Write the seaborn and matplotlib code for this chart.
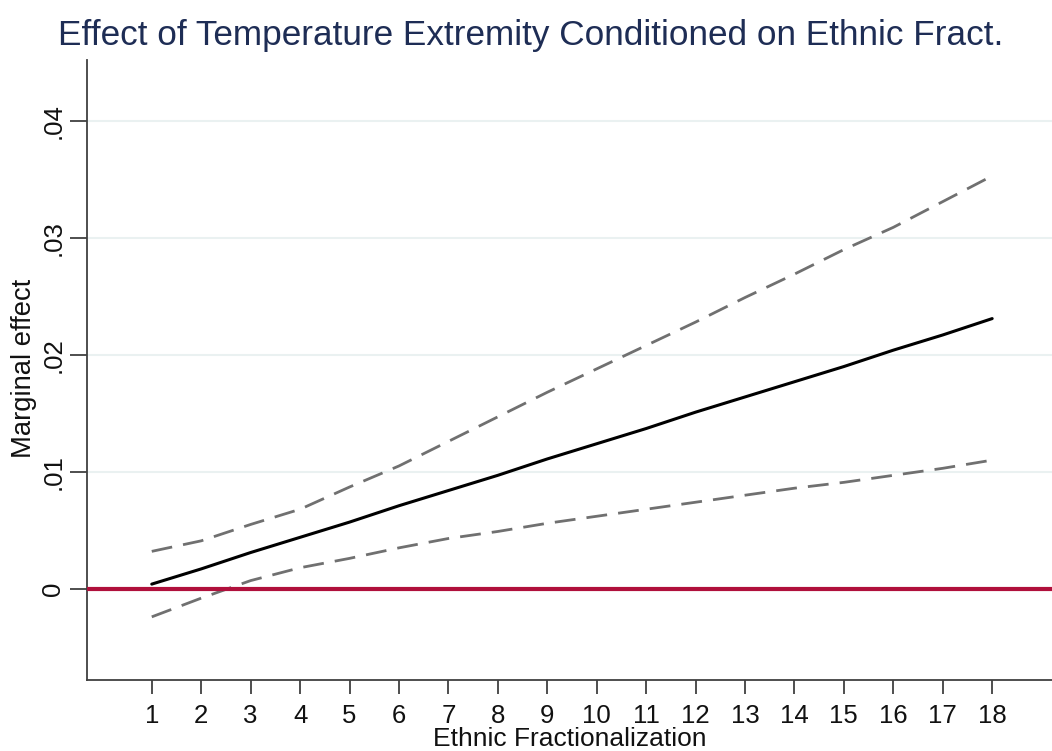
import matplotlib
matplotlib.use("Agg")
import matplotlib.pyplot as plt
import seaborn as sns
import pandas as pd

# Marginal effect of temperature extremity across ethnic fractionalization levels
ethnic_frac = list(range(1, 19))
marginal_effect = [0.0004, 0.0017, 0.0031, 0.0044, 0.0057, 0.0071, 0.0084, 0.0097, 0.0111,
                   0.0124, 0.0137, 0.0151, 0.0164, 0.0177, 0.0190, 0.0204, 0.0217, 0.0231]
upper_ci = [0.0032, 0.0041, 0.0055, 0.0068, 0.0087, 0.0105, 0.0126, 0.0147, 0.0168,
            0.0188, 0.0208, 0.0228, 0.0249, 0.0269, 0.0290, 0.0309, 0.0331, 0.0353]
lower_ci = [-0.0024, -0.0008, 0.0007, 0.0018, 0.0026, 0.0035, 0.0043, 0.0049, 0.0056,
            0.0062, 0.0068, 0.0074, 0.0080, 0.0086, 0.0091, 0.0097, 0.0103, 0.0110]
y_ticks = [0.0, 0.01, 0.02, 0.03, 0.04]
y_tick_labels = ["0", ".01", ".02", ".03", ".04"]

df = pd.DataFrame({"frac": ethnic_frac, "effect": marginal_effect,
                   "upper": upper_ci, "lower": lower_ci})

sns.set_theme(style="white")
plt.rcParams["font.family"] = ["Liberation Sans", "DejaVu Sans"]

fig = plt.figure(figsize=(10.52, 7.51), dpi=100)
ax = fig.add_axes([0.0827, 0.0945, 0.9173, 0.8255])

grid_color = "#EAF1F1"
for yv in y_ticks[1:]:
    ax.axhline(yv, color=grid_color, lw=1.5, zorder=0)

ci_style = dict(color="#707070", lw=2.0, dashes=(7.5, 4), zorder=2)
sns.lineplot(data=df, x="frac", y="upper", ax=ax, **ci_style)
sns.lineplot(data=df, x="frac", y="lower", ax=ax, **ci_style)
sns.lineplot(data=df, x="frac", y="effect", ax=ax, color="black", lw=2.2, zorder=3)
ax.axhline(0, color="#B0103C", lw=3.0, zorder=4)

ax.set_xlim(-0.31, 19.21)
ax.set_ylim(-0.0078, 0.0452)
ax.set_xticks(ethnic_frac)
ax.set_xticklabels([str(v) for v in ethnic_frac], fontsize=18.5, color="#111111")
ax.set_yticks(y_ticks)
ax.set_yticklabels(y_tick_labels, fontsize=18.5, rotation=90, va="center", color="#111111")

for side in ("top", "right"):
    ax.spines[side].set_visible(False)
for side in ("left", "bottom"):
    ax.spines[side].set_color("#404040")
    ax.spines[side].set_linewidth(1.3)

ax.tick_params(axis="x", which="major", direction="out", length=10, width=1.3,
               color="#404040", bottom=True, pad=7)
ax.tick_params(axis="y", which="major", direction="out", length=12, width=1.3,
               color="#404040", left=True, pad=3.5)

ax.set_xlabel("Ethnic Fractionalization", fontsize=19, color="#111111", va="baseline")
ax.xaxis.set_label_coords(0.5, -0.1065)
ax.set_ylabel("Marginal effect", fontsize=19.7, color="#111111")
ax.yaxis.set_label_coords(-0.0518, 0.502)

fig.text(0.504, 0.940, "Effect of Temperature Extremity Conditioned on Ethnic Fract.",
         fontsize=25.3, color="#1E2D55", ha="center", va="baseline")

fig.savefig("out.png", dpi=100, facecolor="white")
